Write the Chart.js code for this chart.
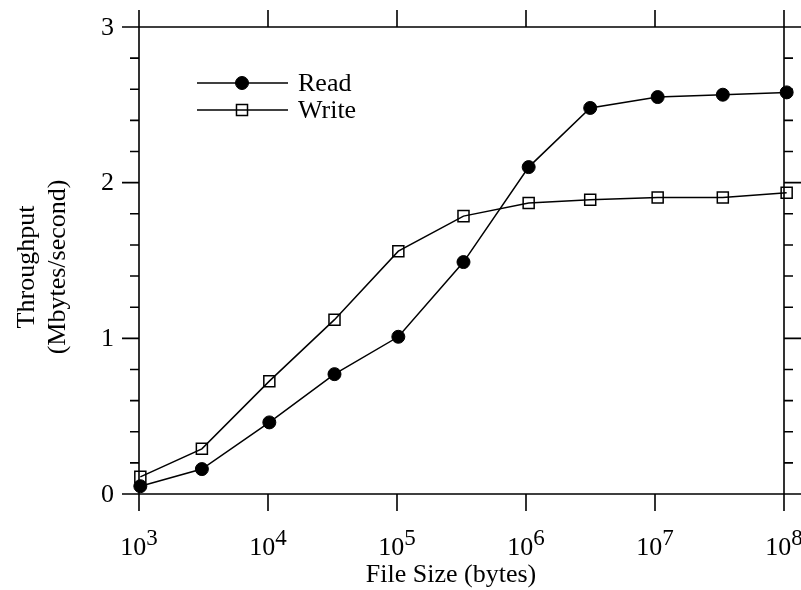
<!DOCTYPE html>
<html>
<head>
<meta charset="utf-8">
<script src="https://cdn.jsdelivr.net/npm/chart.js@4/dist/chart.umd.min.js"></script>
<style>
  html, body { margin: 0; padding: 0; background: #fff; }
  canvas { display: block; }
</style>
</head>
<body>
<canvas id="throughputChart" width="801" height="590"></canvas>
<script>
// File sizes in bytes (1K, 3K, 10K, ... 100M, binary multiples)
const fileSizes = [1024, 3072, 10240, 32768, 102400, 327680, 1048576, 3145728, 10485760, 33554432, 104857600];
// Throughput in Mbytes/second
const readThroughput = [0.05, 0.16, 0.46, 0.77, 1.01, 1.49, 2.10, 2.48, 2.55, 2.565, 2.58];
const writeThroughput = [0.11, 0.29, 0.725, 1.12, 1.56, 1.785, 1.87, 1.89, 1.905, 1.905, 1.935];
const seriesNames = ["Read", "Write"];
// Axis ticks
const xTickExponents = [3, 4, 5, 6, 7, 8];
const yTicks = [0, 1, 2, 3];
const yMinorStep = 0.2;

const FONT = "Liberation Serif, Times New Roman, serif";

function toPoints(values) {
  return fileSizes.map((x, i) => ({ x: x, y: values[i] }));
}

// Draws the boxed frame, outside ticks, tick labels, axis titles and legend
const framePlugin = {
  id: "frame",
  beforeDatasetsDraw: (chart) => {
    const ctx = chart.ctx;
    const xs = chart.scales.x;
    const ys = chart.scales.y;
    const { left, right, top, bottom } = chart.chartArea;
    const major = 17;
    const minor = 9;

    ctx.save();
    ctx.strokeStyle = "#000";
    ctx.lineWidth = 1.6;
    ctx.beginPath();
    ctx.rect(left, top, right - left, bottom - top);

    // x ticks, top and bottom, pointing outwards
    xTickExponents.forEach((e) => {
      const px = xs.getPixelForValue(Math.pow(10, e));
      ctx.moveTo(px, top);
      ctx.lineTo(px, top - major);
      ctx.moveTo(px, bottom);
      ctx.lineTo(px, bottom + major);
    });

    // y ticks, left and right, pointing outwards
    const yMax = yTicks[yTicks.length - 1];
    for (let i = 0; i * yMinorStep <= yMax + 1e-9; i++) {
      const v = i * yMinorStep;
      const py = ys.getPixelForValue(v);
      const len = yTicks.some((t) => Math.abs(t - v) < 1e-9) ? major : minor;
      ctx.moveTo(left, py);
      ctx.lineTo(left - len, py);
      ctx.moveTo(right, py);
      ctx.lineTo(right + len, py);
    }
    ctx.stroke();

    ctx.fillStyle = "#000";

    // y tick labels
    ctx.font = `26px ${FONT}`;
    ctx.textAlign = "right";
    ctx.textBaseline = "middle";
    yTicks.forEach((t) => {
      ctx.fillText(String(t), left - 25, ys.getPixelForValue(t) + 1);
    });

    // x tick labels as 10 with superscript exponent
    ctx.textBaseline = "alphabetic";
    ctx.textAlign = "left";
    xTickExponents.forEach((e) => {
      const px = xs.getPixelForValue(Math.pow(10, e));
      ctx.font = `26px ${FONT}`;
      const baseW = ctx.measureText("10").width;
      ctx.font = `23px ${FONT}`;
      const expW = ctx.measureText(String(e)).width;
      const startX = px - (baseW + expW) / 2;
      ctx.font = `26px ${FONT}`;
      ctx.fillText("10", startX, 555);
      ctx.font = `23px ${FONT}`;
      ctx.fillText(String(e), startX + baseW, 545);
    });

    // axis titles
    ctx.font = `26px ${FONT}`;
    ctx.textAlign = "center";
    ctx.fillText("File Size (bytes)", 451, 582);

    ctx.save();
    ctx.translate(0, 267);
    ctx.rotate(-Math.PI / 2);
    ctx.textBaseline = "middle";
    ctx.fillText("Throughput", 0, 27);
    ctx.fillText("(Mbytes/second)", 0, 58);
    ctx.restore();

    // legend: line with marker in the middle, then the label
    const legendRows = [83, 110];
    chart.data.datasets.forEach((ds, i) => {
      const y = legendRows[i];
      ctx.lineWidth = ds.borderWidth;
      ctx.strokeStyle = ds.borderColor;
      ctx.beginPath();
      ctx.moveTo(197, y);
      ctx.lineTo(288, y);
      ctx.stroke();
      ctx.fillStyle = ds.pointBackgroundColor;
      ctx.strokeStyle = ds.pointBorderColor;
      ctx.lineWidth = ds.pointBorderWidth;
      Chart.helpers.drawPoint(ctx, {
        pointStyle: ds.pointStyle,
        radius: ds.pointRadius,
        rotation: 0,
        borderWidth: ds.pointBorderWidth,
      }, 242, y);
      ctx.fillStyle = "#000";
      ctx.font = `26px ${FONT}`;
      ctx.textAlign = "left";
      ctx.textBaseline = "middle";
      ctx.fillText(ds.label, 298, y + 1);
    });
    ctx.restore();
  },
};

const ctx = document.getElementById("throughputChart").getContext("2d");

new Chart(ctx, {
  type: "line",
  data: {
    datasets: [
      {
        label: seriesNames[0],
        data: toPoints(readThroughput),
        borderColor: "#000",
        borderWidth: 1.5,
        pointStyle: "circle",
        pointRadius: 6.5,
        pointBackgroundColor: "#000",
        pointBorderColor: "#000",
        pointBorderWidth: 1,
        tension: 0,
        clip: false,
      },
      {
        label: seriesNames[1],
        data: toPoints(writeThroughput),
        borderColor: "#000",
        borderWidth: 1.5,
        pointStyle: "rect",
        pointRadius: 7.8,
        pointBackgroundColor: "rgba(0,0,0,0)",
        pointBorderColor: "#000",
        pointBorderWidth: 1.5,
        tension: 0,
        clip: false,
      },
    ],
  },
  plugins: [framePlugin],
  options: {
    responsive: false,
    animation: false,
    layout: {
      padding: { left: 139, right: 17, top: 27, bottom: 96 },
    },
    scales: {
      x: {
        type: "logarithmic",
        min: 1000,
        max: 1e8,
        display: false,
      },
      y: {
        type: "linear",
        min: 0,
        max: 3,
        display: false,
      },
    },
    plugins: {
      legend: { display: false },
      tooltip: { enabled: false },
    },
  },
});
</script>
</body>
</html>
